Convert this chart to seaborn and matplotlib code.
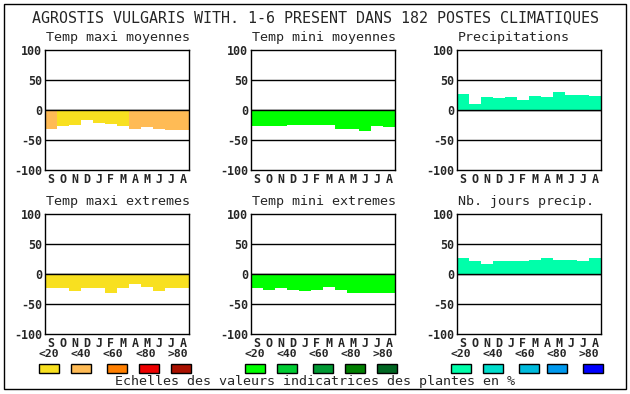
import numpy as np
import pandas as pd
import matplotlib
matplotlib.use("Agg")
import matplotlib.pyplot as plt
from matplotlib.patches import Rectangle
import seaborn as sns

months = ["S", "O", "N", "D", "J", "F", "M", "A", "M", "J", "J", "A"]

red_scale = ["#f8e020", "#ffbb55", "#ff7f00", "#ee0000", "#aa1100"]
green_scale = ["#00ff00", "#00cc33", "#009933", "#007f00", "#006622"]
blue_scale = ["#00ffaa", "#00ddcc", "#00bbdd", "#0099ee", "#0000ff"]
scale_labels = ["<20", "<40", "<60", "<80", ">80"]

tmax_moy = [-31, -27, -25, -17, -22, -23, -27, -32, -28, -32, -33, -33]
tmax_moy_cls = [1, 0, 0, 0, 0, 0, 0, 1, 1, 1, 1, 1]
tmin_moy = [-26, -26, -26, -25, -25, -25, -25, -32, -32, -35, -27, -28]
precip = [27, 10, 22, 20, 22, 17, 23, 22, 30, 25, 25, 23]
tmax_ext = [-24, -24, -28, -23, -24, -31, -24, -16, -21, -28, -24, -24]
tmin_ext = [-24, -26, -24, -26, -28, -26, -21, -26, -31, -31, -31, -31]
nb_jours = [26, 21, 17, 21, 22, 22, 24, 26, 24, 24, 22, 27]

panels = [
    ("Temp maxi moyennes", tmax_moy, [red_scale[c] for c in tmax_moy_cls]),
    ("Temp mini moyennes", tmin_moy, [green_scale[0]] * 12),
    ("Precipitations", precip, [blue_scale[0]] * 12),
    ("Temp maxi extremes", tmax_ext, [red_scale[0]] * 12),
    ("Temp mini extremes", tmin_ext, [green_scale[0]] * 12),
    ("Nb. jours precip.", nb_jours, [blue_scale[0]] * 12),
]

W, H = 630, 394
sns.set_theme(style="white")
plt.rcParams["font.family"] = "DejaVu Sans Mono"

fig = plt.figure(figsize=(W / 100, H / 100), dpi=100)
fig.patch.set_facecolor("white")

# outer frame
fig.add_artist(Rectangle((4 / W, 1 - 389 / H), 622 / W, 385 / H, transform=fig.transFigure,
                         fill=False, edgecolor="black", linewidth=1.0))

fig.text(315 / W, 1 - 18 / H, "AGROSTIS VULGARIS WITH. 1-6 PRESENT DANS 182 POSTES CLIMATIQUES",
         ha="center", va="center", fontsize=10.8)

lefts = [45, 251, 457]
tops = [50, 214]

for i, (title, vals, cols) in enumerate(panels):
    left = lefts[i % 3]
    top = tops[i // 3]
    ax = fig.add_axes([left / W, 1 - (top + 120) / H, 144 / W, 120 / H])
    df = pd.DataFrame({"pos": np.arange(12), "val": vals})
    for yv in (-50, 0, 50):
        ax.axhline(yv, color="black", linewidth=1.0, zorder=0)
    sns.barplot(data=df, x="pos", y="val", hue="pos", palette=cols, legend=False,
                width=1, linewidth=0, saturation=1, ax=ax, zorder=1)
    ax.axhline(0, color="black", linewidth=1.0, zorder=3)
    ax.set_xlim(-0.5, 11.5)
    ax.set_ylim(-100, 100)
    ax.set_yticks([-100, -50, 0, 50, 100])
    ax.set_yticklabels(["-100", "-50", "0", "50", "100"], fontsize=8.4, fontweight="bold")
    ax.set_xticks(np.arange(12))
    ax.set_xticklabels(months, fontsize=8.4, fontweight="bold")
    ax.tick_params(length=0, pad=2)
    ax.set_xlabel("")
    ax.set_ylabel("")
    for s in ax.spines.values():
        s.set_color("black")
        s.set_linewidth(1.0)
    fig.text((left + 1) / W, 1 - (top - 12) / H, title, ha="left", va="center", fontsize=9.6)

# colour scales
label_x = [[49, 81, 113, 146, 178], [255, 287, 319, 351, 383], [461, 493, 525, 557, 589]]
rect_x = [[39, 71, 107, 139, 171], [245, 277, 313, 345, 377], [451, 483, 519, 547, 583]]
for g, scale in enumerate([red_scale, green_scale, blue_scale]):
    for k in range(5):
        fig.text(label_x[g][k] / W, 1 - 354 / H, scale_labels[k], ha="center", va="center",
                 fontsize=8.2, fontweight="bold")
        fig.add_artist(Rectangle((rect_x[g][k] / W, 1 - 373 / H), 20 / W, 9 / H,
                                 transform=fig.transFigure, facecolor=scale[k],
                                 edgecolor="black", linewidth=1))

fig.text(315 / W, 1 - 382 / H, "Echelles des valeurs indicatrices des plantes en %",
         ha="center", va="center", fontsize=9.6)

fig.savefig("out.png", dpi=100)
